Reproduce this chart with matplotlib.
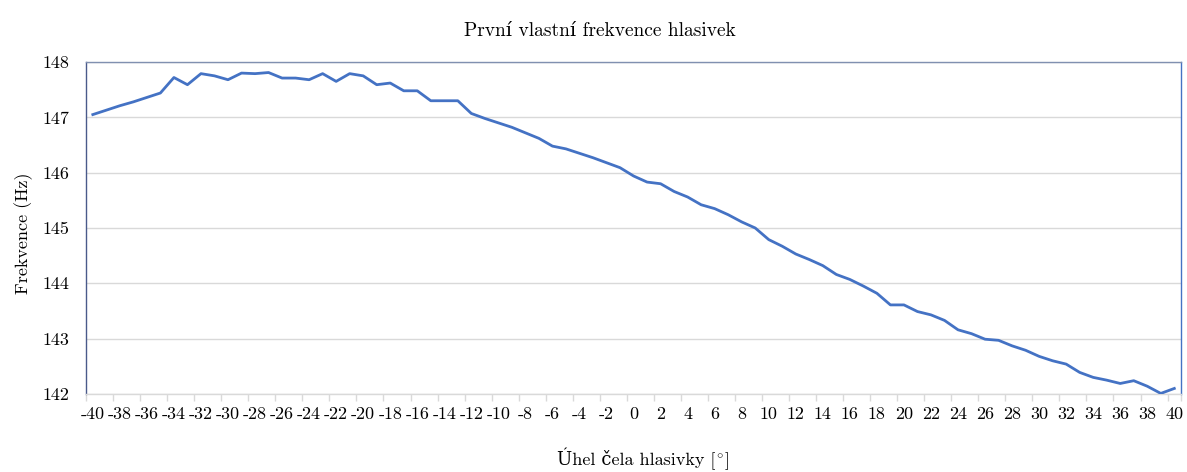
import matplotlib
matplotlib.use("Agg")
import matplotlib.pyplot as plt
import numpy as np

angles = list(range(-40, 41))
freq = [
    147.05, 147.13, 147.21, 147.28, 147.36, 147.44, 147.72, 147.59, 147.79, 147.75,
    147.68, 147.80, 147.79, 147.81, 147.71, 147.71, 147.68, 147.79, 147.65, 147.79,
    147.75, 147.59, 147.62, 147.48, 147.48, 147.30, 147.30, 147.30, 147.07, 146.98,
    146.90, 146.82, 146.72, 146.62, 146.48, 146.43, 146.35, 146.27, 146.18, 146.09,
    145.94, 145.83, 145.80, 145.66, 145.56, 145.42, 145.35, 145.24, 145.11, 145.00,
    144.79, 144.67, 144.53, 144.43, 144.32, 144.16, 144.07, 143.95, 143.82, 143.61,
    143.61, 143.49, 143.43, 143.33, 143.16, 143.09, 142.99, 142.97, 142.87, 142.79,
    142.68, 142.60, 142.54, 142.39, 142.30, 142.25, 142.19, 142.24, 142.14, 142.01,
    142.10,
]
y_ticks = [142, 143, 144, 145, 146, 147, 148]
x_tick_labels = [str(a) for a in range(-40, 41, 2)]

title = "První vlastní frekvence hlasivek"
xlabel_main = "Úhel čela hlasivky ["
xlabel_tail = r"$^{\circ}$]"
ylabel = "Frekvence (Hz)"

fam = ["cmr10", "DejaVu Serif"]
plt.rcParams["font.family"] = fam
plt.rcParams["mathtext.fontset"] = "cm"
plt.rcParams["axes.unicode_minus"] = False

W, H = 1187, 472
fig = plt.figure(figsize=(W / 100, H / 100), dpi=100)
ax = fig.add_axes([0.0725, 0.1653, 0.9225, 0.7033])

ax.plot(angles, freq, color="#4472C4", lw=2.0, solid_joinstyle="round", zorder=3)

ax.set_xlim(-40.5, 40.5)
ax.set_ylim(142, 148)
ax.set_yticks(y_ticks)
ax.set_yticklabels([str(v) for v in y_ticks], fontsize=13)
ax.set_xticks(list(range(-40, 41, 2)))
ax.set_xticklabels(x_tick_labels, fontsize=13)
ax.set_xticks([a - 0.5 for a in range(-40, 41, 2)] + [40.5], minor=True)
ax.tick_params(axis="x", which="major", length=0, pad=9)
ax.tick_params(axis="x", which="minor", length=5, color="#d9d9d9", width=1)
ax.tick_params(axis="y", length=0, pad=22)
for lbl in ax.get_yticklabels():
    lbl.set_horizontalalignment("center")

ax.grid(axis="y", color="#d9d9d9", lw=1.0, zorder=1)
ax.set_axisbelow(True)

ax.spines["left"].set_color("#4a5a8a")
ax.spines["top"].set_color("#8090b0")
ax.spines["right"].set_color("#4472C4")
ax.spines["bottom"].set_color("#d9d9d9")
for s in ax.spines.values():
    s.set_linewidth(1.0)

fig.text(0.505, 0.935, title, ha="center", va="center", fontsize=14)
fig.text(0.02, 0.505, ylabel, ha="center", va="center", rotation=90, fontsize=13)

# x label composed of two pieces so the degree sign renders correctly
base_y = 1 - 465 / H
t1 = fig.text(0, base_y, xlabel_main, ha="left", va="baseline", fontsize=13)
t2 = fig.text(0, base_y, xlabel_tail, ha="left", va="baseline", fontsize=13)
fig.canvas.draw()
r = fig.canvas.get_renderer()
w1 = t1.get_window_extent(r).width
w2 = t2.get_window_extent(r).width
cx = 643
x0 = cx - (w1 + w2) / 2
t1.set_x(x0 / W)
t2.set_x((x0 + w1) / W)

fig.savefig("out.png", dpi=100)
